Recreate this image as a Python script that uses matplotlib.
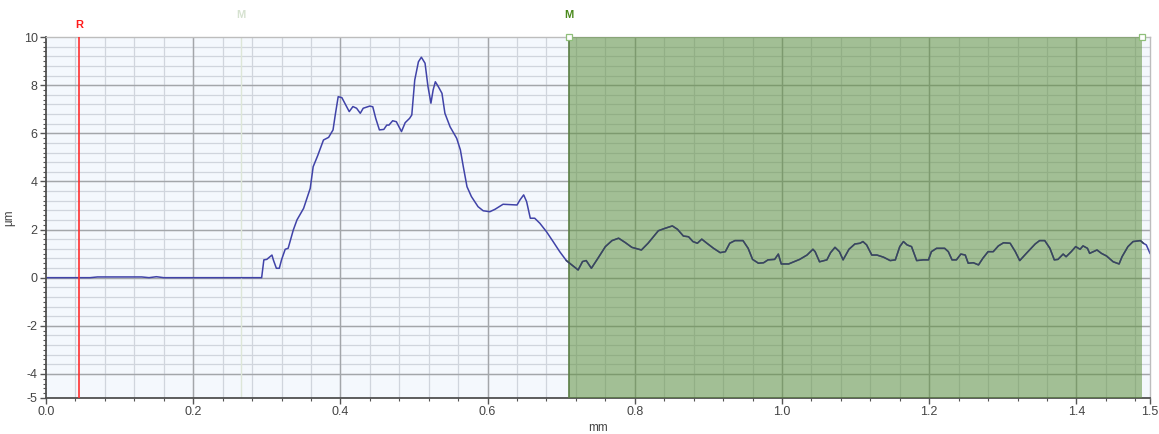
import numpy as np
import matplotlib
matplotlib.use("Agg")
import matplotlib.pyplot as plt
from matplotlib.ticker import MultipleLocator, FixedLocator

plt.rcParams['font.family'] = ['Liberation Sans', 'DejaVu Sans']

# profile (mm, um)
x_mm = [0.0, 0.06, 0.07, 0.13, 0.14, 0.15, 0.16, 0.293,
        0.296, 0.300, 0.307, 0.309, 0.313, 0.317, 0.320, 0.325, 0.329, 0.336,
        0.341, 0.350, 0.359, 0.363, 0.369, 0.377, 0.384, 0.390, 0.393, 0.397,
        0.402, 0.406, 0.412, 0.417, 0.422, 0.427, 0.431, 0.440, 0.444, 0.448,
        0.453, 0.459, 0.463, 0.466, 0.471, 0.476, 0.483, 0.488, 0.494, 0.497,
        0.501, 0.506, 0.510, 0.515, 0.519, 0.523, 0.526, 0.529, 0.533, 0.538,
        0.542, 0.549, 0.558, 0.563, 0.567, 0.572, 0.578, 0.587, 0.594, 0.603,
        0.610, 0.621, 0.640, 0.644, 0.649, 0.653, 0.658, 0.664, 0.671, 0.680,
        0.689, 0.698, 0.707, 0.716, 0.723, 0.729, 0.734, 0.741, 0.750, 0.760,
        0.769, 0.778, 0.787, 0.796, 0.809, 0.818, 0.832, 0.841, 0.851, 0.858,
        0.866, 0.873, 0.879, 0.885, 0.891, 0.898, 0.907, 0.916, 0.923, 0.929,
        0.936, 0.947, 0.954, 0.960, 0.968, 0.975, 0.981, 0.990, 0.995, 0.999,
        1.009, 1.024, 1.034, 1.042, 1.045, 1.051, 1.061, 1.066, 1.072, 1.078,
        1.083, 1.091, 1.099, 1.106, 1.110, 1.115, 1.122, 1.129, 1.138, 1.147,
        1.154, 1.160, 1.165, 1.170, 1.176, 1.183, 1.192, 1.199, 1.203, 1.210,
        1.221, 1.226, 1.231, 1.237, 1.243, 1.249, 1.253, 1.260, 1.267, 1.273,
        1.280, 1.287, 1.294, 1.301, 1.310, 1.317, 1.323, 1.332, 1.344, 1.350,
        1.357, 1.364, 1.370, 1.375, 1.382, 1.386, 1.393, 1.399, 1.405, 1.409,
        1.415, 1.418, 1.428, 1.434, 1.441, 1.450, 1.458, 1.462, 1.470, 1.477,
        1.487, 1.491, 1.495, 1.500]
z_um = [0.0, 0.0, 0.03, 0.03, 0.0, 0.04, 0.0, 0.0,
        0.74, 0.76, 0.94, 0.73, 0.39, 0.39, 0.74, 1.18, 1.22, 1.98,
        2.40, 2.88, 3.71, 4.61, 5.06, 5.72, 5.83, 6.14, 6.76, 7.52,
        7.48, 7.25, 6.90, 7.11, 7.04, 6.83, 7.04, 7.13, 7.10, 6.62,
        6.14, 6.16, 6.34, 6.34, 6.52, 6.48, 6.07, 6.44, 6.62, 6.76,
        8.21, 8.97, 9.16, 8.91, 7.94, 7.25, 7.80, 8.14, 7.94, 7.66,
        6.83, 6.27, 5.79, 5.31, 4.61, 3.78, 3.37, 2.95, 2.78, 2.74,
        2.84, 3.05, 3.02, 3.23, 3.44, 3.16, 2.47, 2.47, 2.26, 1.91,
        1.50, 1.08, 0.71, 0.49, 0.32, 0.67, 0.71, 0.39, 0.81, 1.29,
        1.54, 1.64, 1.46, 1.26, 1.15, 1.43, 1.95, 2.05, 2.15, 2.01,
        1.73, 1.70, 1.50, 1.43, 1.60, 1.43, 1.22, 1.04, 1.08, 1.43,
        1.54, 1.54, 1.22, 0.76, 0.60, 0.62, 0.74, 0.76, 0.98, 0.57,
        0.57, 0.76, 0.94, 1.18, 1.08, 0.66, 0.74, 1.04, 1.26, 1.08,
        0.74, 1.18, 1.40, 1.43, 1.50, 1.36, 0.94, 0.94, 0.85, 0.71,
        0.74, 1.29, 1.50, 1.36, 1.29, 0.71, 0.74, 0.74, 1.08, 1.22,
        1.22, 1.08, 0.74, 0.74, 0.98, 0.94, 0.60, 0.62, 0.53, 0.81,
        1.08, 1.08, 1.32, 1.45, 1.43, 1.08, 0.71, 1.01, 1.40, 1.54,
        1.54, 1.22, 0.74, 0.76, 0.98, 0.87, 1.08, 1.29, 1.18, 1.32,
        1.22, 1.01, 1.15, 1.01, 0.90, 0.66, 0.57, 0.87, 1.29, 1.50,
        1.54, 1.43, 1.36, 1.01]

x_ticks = [0.0, 0.2, 0.4, 0.6, 0.8, 1.0, 1.2, 1.4, 1.5]
x_tick_labels = ["0.0", "0.2", "0.4", "0.6", "0.8", "1.0", "1.2", "1.4", "1.5"]
y_ticks = [-5, -4, -2, 0, 2, 4, 6, 8, 10]

ref_x = 0.045       # R cursor
m_ghost_x = 0.265   # faded M
m1_x = 0.7106       # measure range start
m2_x = 1.489        # measure range end

x = np.array(x_mm)
z = np.array(z_um)

fig = plt.figure(figsize=(11.59, 4.34), dpi=100)
ax = fig.add_axes([46/1159, 36/434, 1104/1159, 361/434])
ax.set_facecolor('#f4f8fd')
ax.set_xlim(0, 1.5)
ax.set_ylim(-5, 10)

# grid
for gx in np.arange(0.04, 1.5, 0.04):
    ax.axvline(gx, color='#d0d5dd', lw=0.9, zorder=0.5)
for gy in np.arange(-4, 10, 0.4):
    ax.axhline(gy, color='#d0d5dd', lw=0.9, zorder=0.5)
for gx in x_ticks[1:-1]:
    ax.axvline(gx, color='#a3a6aa', lw=1.0, zorder=0.6)
for gy in y_ticks[1:-1]:
    ax.axhline(gy, color='#a3a6aa', lw=1.0, zorder=0.6)

# profile
ax.plot(x, z, color='#4043a8', lw=1.1, zorder=2)
inside = (x >= m1_x - 0.005) & (x <= m2_x + 0.005)
ax.plot(x[inside], z[inside], color='#3a4560', lw=1.1, zorder=4)

# measure region
ax.axvspan(m1_x, m2_x, color='#5f9140', alpha=0.55, lw=0, zorder=3)
ax.axvline(m1_x, color='#5a7d45', lw=1.2, zorder=3.5)

# cursors
ax.axvline(ref_x, color='#ff3030', lw=1.2, zorder=5)
ax.axvline(m_ghost_x, color='#dde6d8', lw=1.0, zorder=0.7)
ax.plot([m1_x, m2_x], [10, 10], ls='none', marker='s', ms=4.5, mfc='white',
        mec='#8fbf7a', mew=0.9, clip_on=False, zorder=6)
ax.text(ref_x, 10.5, 'R', color='#ff1a1a', fontsize=8, fontweight='bold',
        ha='center', va='center')
ax.text(m_ghost_x, 10.9, 'M', color='#d6e2d0', fontsize=8, fontweight='bold',
        ha='center', va='center')
ax.text(m1_x, 10.9, 'M', color='#4a8a1c', fontsize=8, fontweight='bold',
        ha='center', va='center')

# ticks
ax.xaxis.set_major_locator(FixedLocator(x_ticks))
ax.set_xticklabels(x_tick_labels)
ax.xaxis.set_minor_locator(MultipleLocator(0.04))
ax.yaxis.set_major_locator(FixedLocator(y_ticks))
ax.set_yticklabels([str(v) for v in y_ticks])
ax.yaxis.set_minor_locator(MultipleLocator(0.2))
ax.tick_params(axis='both', which='major', length=4, width=1, color='#555555',
               labelsize=9, labelcolor='#444444', pad=2)
ax.tick_params(axis='both', which='minor', length=2.5, width=0.8, color='#555555')

for s in ['left', 'bottom']:
    ax.spines[s].set_color('#505050')
    ax.spines[s].set_linewidth(1.3)
for s in ['top', 'right']:
    ax.spines[s].set_color('#bdbdbd')
    ax.spines[s].set_linewidth(1.0)

ax.set_xlabel('mm', fontsize=8.5, color='#444444', labelpad=2.5)
ax.set_ylabel('µm', fontsize=8.5, color='#444444', labelpad=6)

fig.savefig('out.png', dpi=100)
